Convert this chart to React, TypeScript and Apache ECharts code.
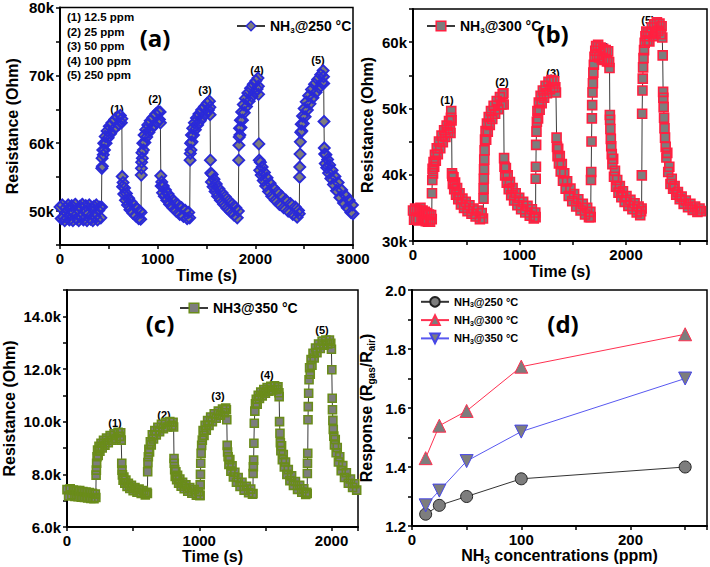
import React, { useEffect, useRef } from 'react';
import * as echarts from 'echarts';

const FONT = '"Liberation Sans", Arial, Helvetica, sans-serif';

// Panel (a): NH3 @ 250 °C, [time s, resistance kOhm]
const res250: number[][] = [
  [0,50.6],[12,48.9],[24,50.9],[36,49.1],[48,48.6],[60,50.5],[72,49.0],[84,50.9],[96,48.7],[108,50.2],[120,50.8],[132,48.6],[144,49.8],[156,51.0],[168,48.9],[180,50.3],[192,48.6],[204,50.7],[216,49.2],[228,51.0],[240,48.7],[252,50.0],[264,50.8],[276,48.6],[288,49.6],[300,50.9],[312,48.8],[324,50.4],[336,48.6],[348,50.7],[360,49.2],[372,50.9],[384,48.7],[396,50.1],[408,50.6],[418,49.0],[425,50.6],
  [428,56.3],[431,57.8],[434,56.6],[438,59.0],[443,58.3],[448,60.0],[455,59.0],[463,61.0],[472,60.0],[482,61.8],[493,60.8],[505,62.5],[518,61.4],[532,63.0],[546,62.0],[560,63.5],[575,62.4],[590,63.9],[605,62.8],[618,64.1],[628,63.0],[633,63.6],
  [637,55.1],[641,53.6],[646,54.2],[653,52.5],[661,53.4],[670,51.6],[680,52.6],[691,50.9],[703,51.9],[716,50.2],[730,51.3],[745,49.7],[760,50.8],[775,49.3],[790,50.3],[805,48.9],[818,50.0],[826,48.8],[830,49.8],
  [832,55.3],[834,56.3],[836,57.2],[839,58.6],[843,57.8],[848,60.0],[854,59.0],[861,61.2],[869,60.1],[878,62.0],[888,60.9],[899,62.7],[911,61.6],[924,63.3],[938,62.2],[952,63.8],[966,62.7],[980,64.3],[994,63.1],[1008,64.7],[1018,63.5],[1025,64.6],[1028,63.0],
  [1032,55.2],[1036,53.7],[1042,54.3],[1050,52.7],[1058,53.7],[1068,52.2],[1080,53.1],[1093,51.6],[1107,52.5],[1122,51.0],[1138,51.9],[1155,50.5],[1172,51.4],[1190,50.0],[1208,50.9],[1226,49.5],[1245,50.5],[1264,49.2],[1283,50.1],[1302,48.9],[1318,49.8],[1328,49.0],
  [1332,57.5],[1334,58.5],[1337,60.0],[1341,59.0],[1346,61.2],[1352,60.2],[1359,62.2],[1367,61.2],[1376,63.0],[1386,62.0],[1397,63.7],[1409,62.7],[1422,64.3],[1436,63.3],[1450,64.9],[1465,63.9],[1480,65.4],[1495,64.4],[1508,65.9],[1520,64.9],[1530,66.2],[1535,65.3],[1537,64.2],
  [1540,57.5],[1544,55.6],[1550,54.3],[1558,55.4],[1567,53.6],[1577,54.7],[1588,52.9],[1600,54.0],[1613,52.2],[1627,53.3],[1642,51.6],[1658,52.7],[1675,51.0],[1692,52.1],[1710,50.4],[1728,51.5],[1746,49.9],[1764,51.0],[1782,49.4],[1800,50.5],[1815,49.0],[1826,50.0],
  [1830,57.5],[1832,59.7],[1835,60.9],[1838,62.2],[1842,61.2],[1847,63.4],[1853,62.3],[1860,64.6],[1868,63.4],[1877,65.7],[1887,64.5],[1898,66.6],[1910,65.4],[1923,67.4],[1937,66.2],[1951,68.1],[1965,66.9],[1979,68.7],[1993,67.5],[2006,69.2],[2018,68.0],[2027,69.6],[2031,68.4],[2033,67.2],
  [2036,59.9],[2040,57.5],[2045,56.0],[2052,57.2],[2060,55.3],[2070,56.5],[2081,54.5],[2093,55.7],[2106,53.7],[2120,54.9],[2135,52.9],[2151,54.1],[2168,52.2],[2186,53.4],[2205,51.6],[2225,52.8],[2246,51.0],[2268,52.2],[2290,50.5],[2313,51.6],[2336,50.0],[2360,51.1],[2384,49.5],[2408,50.6],[2428,49.1],[2442,50.1],[2450,49.6],
  [2453,55.0],[2455,56.5],[2458,58.4],[2461,60.2],[2465,61.6],[2470,62.8],[2476,61.8],[2483,64.0],[2491,62.9],[2500,65.1],[2510,63.9],[2521,66.1],[2533,64.9],[2546,67.0],[2560,65.8],[2575,67.9],[2590,66.7],[2606,68.7],[2622,67.5],[2638,69.4],[2654,68.2],[2669,70.1],[2683,68.9],[2694,70.7],[2698,69.8],[2700,68.8],
  [2703,63.2],[2706,59.3],[2710,58.4],[2716,57.0],[2723,58.3],[2731,56.4],[2740,57.6],[2750,55.6],[2761,56.8],[2773,54.8],[2786,56.0],[2800,53.9],[2815,55.1],[2831,53.0],[2848,54.2],[2866,52.0],[2884,53.1],[2903,51.2],[2922,52.3],[2941,50.5],[2960,51.6],[2978,49.8],[2994,50.9],[3000,49.6],
];

// Panel (b): NH3 @ 300 °C
const res300: number[][] = [
  [0,34.6],[10,33.2],[20,34.9],[30,33.4],[40,34.7],[50,33.1],[60,34.5],[70,35.0],[80,33.3],[90,34.6],[100,33.2],[110,34.4],[120,33.0],[130,34.2],[140,32.9],[150,34.0],[160,32.9],[170,33.9],[176,33.3],
  [178,37.2],[181,39.2],[184,40.9],[188,40.2],[193,41.9],[199,41.2],[206,43.0],[214,42.1],[223,44.0],[233,43.1],[244,45.0],[256,44.0],[268,45.9],[280,44.9],[292,46.7],[304,45.7],[316,47.4],[328,46.4],[338,48.1],[347,47.0],[352,46.3],[356,48.6],[359,49.6],[362,48.2],
  [366,40.2],[369,39.8],[374,38.6],[380,39.6],[387,37.8],[395,38.8],[404,37.0],[414,38.0],[425,36.3],[437,37.2],[450,35.5],[464,36.4],[479,35.0],[495,35.9],[512,34.5],[530,35.4],[549,34.1],[568,34.9],[588,33.7],[608,34.6],[628,33.3],[645,34.2],[657,33.4],
  [662,36.4],[663,37.9],[665,39.4],[667,40.8],[669,42.3],[672,43.7],[676,45.3],[681,46.6],[687,45.3],[694,47.7],[702,46.5],[711,48.7],[721,47.5],[732,49.6],[744,48.4],[757,50.4],[771,49.2],[786,51.1],[801,49.9],[816,51.7],[830,50.6],[842,52.2],[849,52.3],[851,50.6],
  [855,42.5],[859,41.2],[865,39.9],[872,41.0],[880,38.8],[889,39.9],[899,37.8],[910,38.9],[922,36.9],[935,38.0],[949,36.1],[964,37.2],[980,35.4],[997,36.5],[1015,34.8],[1034,35.9],[1054,34.3],[1075,35.3],[1096,33.8],[1116,34.8],[1134,33.4],[1148,34.3],
  [1151,33.6],[1152,39.4],[1154,41.2],[1156,44.5],[1159,46.5],[1163,48.0],[1168,49.6],[1174,48.5],[1181,50.9],[1189,49.8],[1198,51.9],[1208,50.8],[1219,52.7],[1231,51.6],[1244,53.4],[1258,52.3],[1272,54.0],[1286,52.9],[1300,54.3],[1314,53.2],[1326,54.1],[1336,53.2],[1342,52.4],
  [1348,45.6],[1352,44.2],[1357,42.8],[1363,43.9],[1370,41.7],[1378,42.8],[1387,40.5],[1397,41.6],[1408,39.1],[1420,40.2],[1433,37.9],[1447,39.0],[1462,36.8],[1478,37.9],[1495,36.0],[1513,37.1],[1532,35.2],[1552,36.3],[1573,34.6],[1594,35.6],[1615,34.0],[1635,35.0],[1652,33.6],[1665,34.4],
  [1668,33.6],[1671,39.2],[1673,40.4],[1676,45.0],[1679,48.5],[1682,50.5],[1685,52.4],[1689,53.8],[1693,55.4],[1698,56.6],[1704,57.8],[1711,58.7],[1719,59.4],[1728,58.1],[1738,59.6],[1749,57.7],[1761,59.2],[1773,57.4],[1785,59.0],[1797,57.3],[1809,58.8],[1821,57.1],[1832,58.6],[1841,57.0],[1845,56.1],
  [1848,49.0],[1850,48.3],[1853,46.9],[1857,45.4],[1861,44.3],[1866,43.1],[1872,41.6],[1879,42.4],[1887,39.7],[1896,40.6],[1906,38.2],[1917,39.2],[1929,37.3],[1942,38.3],[1956,36.6],[1971,37.5],[1987,35.9],[2004,36.8],[2022,35.3],[2041,36.2],[2060,34.8],[2080,35.7],[2100,34.3],[2118,35.2],[2133,33.9],[2142,34.5],
  [2146,34.9],[2148,39.9],[2151,49.2],[2154,52.7],[2157,54.5],[2160,56.2],[2164,57.6],[2169,58.8],[2175,59.9],[2182,60.9],[2190,61.6],[2199,60.2],[2209,61.5],[2219,60.1],[2230,61.3],[2242,62.2],[2254,60.9],[2266,62.7],[2278,61.4],[2290,63.0],[2302,61.7],[2314,62.8],[2325,61.2],[2334,62.4],[2340,60.7],
  [2344,58.0],[2348,52.5],[2350,51.6],[2353,50.2],[2357,48.6],[2361,47.0],[2366,45.6],[2372,44.2],[2379,42.6],[2387,43.3],[2396,40.4],[2406,41.2],[2417,38.6],[2429,39.4],[2442,37.9],[2456,38.3],[2471,37.0],[2487,37.4],[2504,36.3],[2522,36.7],[2541,35.6],[2561,36.1],[2582,35.1],[2604,35.6],[2626,34.7],[2648,35.2],[2670,34.4],[2690,34.9],[2703,34.5],
];

// Panel (c): NH3 @ 350 °C
const res350: number[][] = [
  [0,7.42],[12,7.18],[24,7.45],[36,7.22],[48,7.4],[60,7.16],[72,7.38],[84,7.15],[96,7.38],[108,7.13],[120,7.35],[132,7.12],[144,7.33],[156,7.1],[168,7.31],[180,7.08],[192,7.28],[204,7.07],[214,7.25],[218,7.12],
  [220,7.97],[222,8.16],[224,8.42],[227,8.67],[231,8.92],[236,8.72],[242,9.06],[249,8.88],[257,9.18],[266,9.0],[276,9.29],[287,9.11],[299,9.38],[312,9.2],[326,9.47],[341,9.3],[356,9.54],[371,9.37],[386,9.6],[398,9.44],[406,9.58],[410,9.3],
  [414,8.42],[416,8.16],[419,7.98],[424,7.78],[430,7.9],[437,7.66],[445,7.78],[454,7.54],[464,7.66],[475,7.46],[487,7.58],[500,7.38],[514,7.5],[529,7.32],[545,7.44],[561,7.27],[577,7.38],[592,7.22],[604,7.32],
  [608,7.27],[610,8.1],[612,8.45],[615,8.67],[619,8.95],[624,8.85],[630,9.24],[637,9.12],[645,9.5],[654,9.34],[664,9.66],[675,9.5],[687,9.79],[700,9.62],[714,9.9],[729,9.73],[745,9.97],[761,9.8],[777,10.0],[791,9.86],[802,9.98],[806,9.8],
  [809,8.6],[811,8.42],[814,8.18],[818,7.92],[823,8.1],[829,7.8],[836,7.96],[844,7.66],[853,7.82],[863,7.55],[874,7.7],[886,7.45],[899,7.6],[913,7.36],[928,7.5],[944,7.28],[961,7.42],[978,7.21],[994,7.34],[1004,7.2],
  [1006,7.2],[1007,7.6],[1009,8.0],[1011,8.42],[1014,8.8],[1018,9.1],[1023,9.3],[1029,9.66],[1036,9.48],[1044,9.86],[1053,9.68],[1063,10.04],[1074,9.86],[1086,10.18],[1099,10.0],[1113,10.3],[1128,10.13],[1144,10.4],[1160,10.25],[1176,10.48],[1190,10.34],[1200,10.52],[1205,10.45],[1208,10.07],
  [1211,9.1],[1214,8.85],[1218,8.67],[1224,8.38],[1231,8.56],[1239,8.12],[1248,8.32],[1258,7.9],[1269,8.08],[1281,7.7],[1294,7.88],[1308,7.54],[1323,7.7],[1339,7.4],[1356,7.55],[1373,7.3],[1389,7.44],[1402,7.25],
  [1406,7.27],[1407,8.03],[1409,8.29],[1411,8.54],[1413,9.18],[1416,9.94],[1420,10.4],[1425,10.68],[1431,10.85],[1438,10.66],[1446,11.0],[1455,10.88],[1465,11.12],[1476,10.98],[1488,11.22],[1500,11.08],[1513,11.3],[1527,11.16],[1541,11.34],[1555,11.2],[1569,11.36],[1583,11.22],[1595,11.32],[1602,11.1],[1604,10.95],
  [1607,10.0],[1610,9.56],[1613,9.2],[1617,8.9],[1622,9.08],[1628,8.56],[1635,8.75],[1643,8.28],[1652,8.47],[1662,8.0],[1673,8.18],[1685,7.76],[1698,7.94],[1712,7.58],[1727,7.73],[1743,7.43],[1759,7.58],[1775,7.32],[1790,7.45],[1805,7.24],[1812,7.32],
  [1816,7.27],[1817,8.03],[1818,8.42],[1820,8.8],[1822,10.07],[1824,10.57],[1827,11.08],[1830,11.59],[1834,12.05],[1839,11.8],[1845,12.36],[1852,12.14],[1860,12.6],[1869,12.42],[1879,12.8],[1890,12.62],[1902,12.95],[1915,12.78],[1929,13.06],[1943,12.9],[1957,13.1],[1971,12.95],[1984,13.1],[1994,12.98],[1999,12.75],
  [2002,11.97],[2005,10.89],[2007,10.45],[2010,10.05],[2013,9.7],[2017,9.45],[2022,9.12],[2028,9.32],[2035,8.82],[2043,9.02],[2052,8.47],[2062,8.67],[2073,8.14],[2085,8.33],[2098,7.88],[2112,8.06],[2127,7.66],[2143,7.82],[2159,7.5],[2175,7.64],[2190,7.4],
];

// Panel (d): response vs concentration
const concentrations = [12.5, 25, 50, 100, 250];
const resp250 = [1.24, 1.27, 1.30, 1.36, 1.40];
const resp300 = [1.43, 1.54, 1.59, 1.74, 1.85];
const resp350 = [1.27, 1.32, 1.42, 1.52, 1.70];

const ppmNotes = ['(1) 12.5 ppm', '(2) 25 ppm', '(3) 50 ppm', '(4) 100 ppm', '(5) 250 ppm'];
const peakTags = ['(1)', '(2)', '(3)', '(4)', '(5)'];

const legendText: Record<string, string> = {
  a: '{n|NH}{s|3}{n|@250 °C}',
  b: '{n|NH}{s|3}{n|@300 °C}',
  c: '{n|NH3@350 °C}',
  d250: '{m|NH}{t|3}{m|@250 °C}',
  d300: '{m|NH}{t|3}{m|@300 °C}',
  d350: '{m|NH}{t|3}{m|@350 °C}',
};

const richStyles = {
  n: { fontFamily: FONT, fontWeight: 'bold', fontSize: 14, color: '#000' },
  s: { fontFamily: FONT, fontWeight: 'bold', fontSize: 8, color: '#000', padding: [8, 0, 0, 0] },
  m: { fontFamily: FONT, fontWeight: 'bold', fontSize: 11, color: '#000' },
  t: { fontFamily: FONT, fontWeight: 'bold', fontSize: 7, color: '#000', padding: [6, 0, 0, 0] },
};

const axisRich = {
  n: { fontFamily: FONT, fontWeight: 'bold', fontSize: 16, color: '#000' },
  s: { fontFamily: FONT, fontWeight: 'bold', fontSize: 10, color: '#000', padding: [9, 0, 0, 0] },
};

const BLUE = '#2a2ad8';
const RED = '#ff2040';
const OLIVE = '#6a8c1a';
const GRAY = '#7d7d7d';

function makeAxis(extra: any) {
  return {
    type: 'value',
    axisLine: { show: true, onZero: false, lineStyle: { color: '#000', width: 2 } },
    axisTick: { show: true, inside: false, length: 4, lineStyle: { color: '#000', width: 1.5 } },
    axisLabel: { color: '#000', fontWeight: 'bold', fontSize: 15, fontFamily: FONT, margin: 6 },
    splitLine: { show: false },
    nameLocation: 'middle',
    nameTextStyle: { color: '#000', fontWeight: 'bold', fontSize: 16, fontFamily: FONT },
    ...extra,
  };
}

function text(x: number, y: number, t: string, size: number, family = FONT, align = 'center') {
  return {
    type: 'text',
    x,
    y,
    silent: true,
    style: {
      text: t,
      font: `bold ${size}px ${family}`,
      fill: '#000',
      textAlign: align,
      textVerticalAlign: 'middle',
      align,
      verticalAlign: 'middle',
    },
  };
}

// Each time trace: gray-filled markers + thin connecting line, then coloured outlines on top
function tracePair(name: string, idx: number, data: number[][], symbol: string, size: number, color: string, bw: number) {
  return [
    {
      type: 'line', name, xAxisIndex: idx, yAxisIndex: idx, data, silent: true, showAllSymbol: true,
      symbol, symbolSize: size,
      itemStyle: { color: GRAY, borderWidth: 0 },
      lineStyle: { color: '#3a3a3a', width: 1 },
      emphasis: { disabled: true }, z: 2,
    },
    {
      type: 'line', name: name + '_outline', xAxisIndex: idx, yAxisIndex: idx, data, silent: true, showAllSymbol: true,
      symbol, symbolSize: size,
      itemStyle: { color: 'rgba(0,0,0,0)', borderColor: color, borderWidth: bw },
      lineStyle: { width: 0, opacity: 0 },
      emphasis: { disabled: true }, z: 3,
    },
  ];
}

export default function App() {
  const ref = useRef<HTMLDivElement>(null);
  useEffect(() => {
    if (!ref.current) return;
    const chart = echarts.init(ref.current, null, { renderer: 'svg' });
    const timeFmt = (v: number) => (v % 1000 === 0 ? String(v) : '');
    const kFmt = (v: number) => (v % 10 === 0 ? `${v}k` : '');
    const lbl = makeAxis({}).axisLabel;
    const legendCommon = {
      itemWidth: 28, itemHeight: 12, selectedMode: false,
      formatter: (n: string) => legendText[n], textStyle: { rich: richStyles },
    };
    const option: any = {
      animation: false,
      backgroundColor: '#fff',
      grid: [
        { left: 60, top: 7, width: 293, height: 238 },
        { left: 413, top: 9, width: 295, height: 232 },
        { left: 63, top: 290, width: 295, height: 237 },
        { left: 412, top: 290, width: 295, height: 236 },
      ].map((g) => ({ ...g, show: true, borderColor: '#000', borderWidth: 1.5, backgroundColor: 'transparent' })),
      xAxis: [
        makeAxis({ gridIndex: 0, min: 0, max: 3000, interval: 500, axisLabel: { ...lbl, formatter: timeFmt }, name: 'Time (s)', nameGap: 22 }),
        makeAxis({ gridIndex: 1, min: 0, max: 2760, interval: 500, axisLabel: { ...lbl, formatter: timeFmt }, name: 'Time (s)', nameGap: 22 }),
        makeAxis({ gridIndex: 2, min: 0, max: 2200, interval: 500, axisLabel: { ...lbl, formatter: timeFmt }, name: 'Time (s)', nameGap: 18 }),
        makeAxis({
          gridIndex: 3, min: 0, max: 270, interval: 50,
          axisLabel: { ...lbl, formatter: (v: number) => (v % 100 === 0 ? String(v) : '') },
          name: '{n|NH}{s|3}{n| concentrations (ppm)}', nameGap: 19,
          nameTextStyle: { rich: axisRich },
        }),
      ],
      yAxis: [
        makeAxis({ gridIndex: 0, min: 45, max: 80, interval: 5, axisLabel: { ...lbl, formatter: kFmt }, name: 'Resistance (Ohm)', nameGap: 40 }),
        makeAxis({ gridIndex: 1, min: 30, max: 65, interval: 5, axisLabel: { ...lbl, formatter: kFmt }, name: 'Resistance (Ohm)', nameGap: 38 }),
        makeAxis({
          gridIndex: 2, min: 6, max: 15, interval: 1,
          axisLabel: { ...lbl, formatter: (v: number) => (v % 2 === 0 ? `${v.toFixed(1)}k` : '') },
          name: 'Resistance (Ohm)', nameGap: 50,
        }),
        makeAxis({
          gridIndex: 3, min: 1.2, max: 2.0, interval: 0.1,
          axisLabel: { ...lbl, formatter: (v: number) => (Math.round(v * 10) % 2 === 0 ? v.toFixed(1) : '') },
          name: '{n|Response (R}{s|gas}{n|/R}{s|air}{n|)}', nameGap: 36,
          nameTextStyle: { rich: axisRich },
        }),
      ],
      legend: [
        { ...legendCommon, data: [{ name: 'a', itemStyle: { color: GRAY, borderColor: BLUE, borderWidth: 1.5 } }], left: 231, top: 14 },
        { ...legendCommon, data: [{ name: 'b', itemStyle: { color: GRAY, borderColor: RED, borderWidth: 1.5 } }], left: 421, top: 14 },
        { ...legendCommon, data: [{ name: 'c', itemStyle: { color: GRAY, borderColor: OLIVE, borderWidth: 1.5 } }], left: 174, top: 296 },
        { ...legendCommon, data: ['d250', 'd300', 'd350'], orient: 'vertical', left: 415, top: 291, itemGap: 6 },
      ],
      series: [
        ...tracePair('a', 0, res250, 'diamond', 11, BLUE, 1.9),
        ...tracePair('b', 1, res300, 'rect', 9, RED, 1.6),
        ...tracePair('c', 2, res350, 'rect', 8, OLIVE, 1.6),
        {
          type: 'line', name: 'd250', xAxisIndex: 3, yAxisIndex: 3, silent: true,
          data: concentrations.map((c, i) => [c, resp250[i]]),
          symbol: 'circle', symbolSize: 12,
          itemStyle: { color: GRAY, borderColor: '#222', borderWidth: 1 },
          lineStyle: { color: '#333', width: 1 },
        },
        {
          type: 'line', name: 'd300', xAxisIndex: 3, yAxisIndex: 3, silent: true,
          data: concentrations.map((c, i) => [c, resp300[i]]),
          symbol: 'triangle', symbolSize: 13,
          itemStyle: { color: GRAY, borderColor: '#ff3050', borderWidth: 1 },
          lineStyle: { color: '#ff3050', width: 1 },
        },
        {
          type: 'line', name: 'd350', xAxisIndex: 3, yAxisIndex: 3, silent: true,
          data: concentrations.map((c, i) => [c, resp350[i]]),
          symbol: 'triangle', symbolRotate: 180, symbolSize: 13,
          itemStyle: { color: GRAY, borderColor: '#4646e8', borderWidth: 1 },
          lineStyle: { color: '#5858f0', width: 1 },
        },
      ],
      graphic: [
        {
          type: 'text', left: 67, top: 10, silent: true,
          style: { text: ppmNotes.join('\n'), font: `bold 11.5px ${FONT}`, fill: '#000', lineHeight: 14.5 },
        },
        text(155, 37, '(a)', 24, '"Open Sans", sans-serif'),
        text(553, 33, '(b)', 24, '"Open Sans", sans-serif'),
        text(160, 323, '(c)', 24, '"Open Sans", sans-serif'),
        text(563, 323, '(d)', 24, '"Open Sans", sans-serif'),
        text(117, 109, peakTags[0], 11), text(155, 99, peakTags[1], 11), text(205, 90, peakTags[2], 11), text(257, 70, peakTags[3], 11), text(318, 60, peakTags[4], 11),
        text(447, 100, peakTags[0], 11), text(502, 82, peakTags[1], 11), text(553, 73, peakTags[2], 11), text(602, 47, peakTags[3], 11), text(648, 20, peakTags[4], 11),
        text(115, 423, peakTags[0], 11), text(164, 415, peakTags[1], 11), text(218, 396, peakTags[2], 11), text(267, 375, peakTags[3], 11), text(322, 330, peakTags[4], 11),
      ],
    };
    chart.setOption(option);
    return () => chart.dispose();
  }, []);
  return <div ref={ref} style={{ position: 'absolute', left: 0, top: 0, width: 710, height: 567 }} />;
}
